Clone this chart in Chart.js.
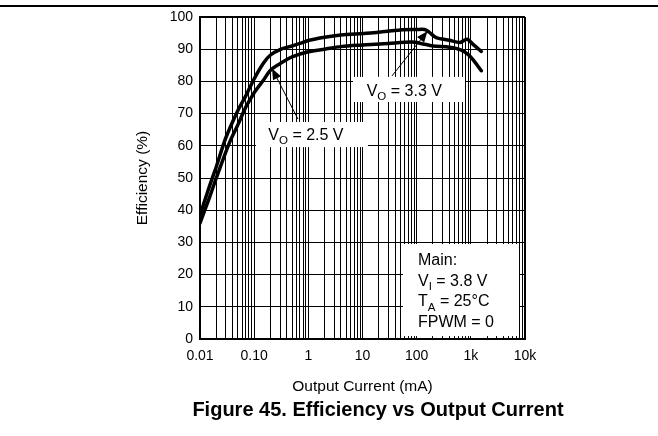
<!DOCTYPE html>
<html>
<head>
<meta charset="utf-8">
<script src="https://cdn.jsdelivr.net/npm/chart.js@4/dist/chart.umd.min.js"></script>
<style>
  html, body { margin: 0; padding: 0; background: #fff; }
  #wrap { position: relative; width: 658px; height: 436px; overflow: hidden; background: #fff; }
  #rule { position: absolute; left: 0; top: 5px; width: 658px; height: 0; border-top: 2px solid #000; }
  #cap { position: absolute; left: 0; width: 756px; top: 398px; text-align: center;
         font: bold 20px "Liberation Sans", Arial, sans-serif; line-height: 23px; color: #000; }
  canvas { position: absolute; left: 0; top: 0; }
</style>
</head>
<body>
<div id="wrap">
  <canvas id="c" width="658" height="436"></canvas>
  <div id="rule"></div>
  <div id="cap">Figure 45. Efficiency vs Output Current</div>
</div>
<script>
// ---- data ----
const current33 = [0.01, 0.015, 0.02, 0.03, 0.05, 0.07, 0.1, 0.15, 0.2, 0.3, 0.5, 0.7, 1, 2, 4, 10, 20, 50, 100, 140, 170, 230, 400, 630, 850, 1100, 1560];
const eff33     = [38.5, 47.5, 53.5, 62.5, 71, 75.5, 80.8, 85.8, 88.2, 89.9, 91, 91.8, 92.7, 93.7, 94.4, 94.9, 95.3, 96, 96.1, 96.1, 95.3, 93.6, 92.8, 92.1, 93.1, 91.5, 89.3];
const current25 = [0.01, 0.015, 0.02, 0.035, 0.05, 0.07, 0.1, 0.15, 0.2, 0.3, 0.5, 1, 2, 4, 10, 30, 80, 120, 200, 400, 650, 900, 1150, 1560];
const eff25     = [36, 44, 50, 61, 66.5, 72, 76.5, 80.5, 83.5, 85.5, 87.6, 89.2, 90, 90.8, 91.3, 91.8, 92.2, 91.8, 91.0, 90.6, 89.8, 88.3, 86.3, 83.3];

const xTickValues = [0.01, 0.1, 1, 10, 100, 1000, 10000];
const xTickLabels = ['0.01', '0.10', '1', '10', '100', '1k', '10k'];
const yMin = 0, yMax = 100, yStep = 10;

const xTitle = 'Output Current (mA)';
const yTitle = 'Efficiency (%)';
const label33 = [['V', 0], ['O', 1], [' = 3.3 V', 0]];
const label25 = [['V', 0], ['O', 1], [' = 2.5 V', 0]];
const conditions = [
  [['Main:', 0]],
  [['V', 0], ['I', 1], [' = 3.8 V', 0]],
  [['T', 0], ['A', 1], [' = 25°C', 0]],
  [['FPWM = 0', 0]]
];

const FONT = '"Liberation Sans", Arial, sans-serif';

// ---- annotation plugin (positions given in data coordinates) ----
function drawParts(ctx, parts, x, y, size) {
  let cx = x;
  ctx.textBaseline = 'alphabetic';
  ctx.textAlign = 'left';
  for (const [t, sub] of parts) {
    const fs = sub ? size * 0.72 : size;
    ctx.font = fs + 'px ' + FONT;
    ctx.fillText(t, cx, y + (sub ? size * 0.28 : 0));
    cx += ctx.measureText(t).width;
  }
}
function arrow(ctx, x0, y0, x1, y1) {
  ctx.strokeStyle = '#000';
  ctx.lineWidth = 1;
  ctx.beginPath(); ctx.moveTo(x0, y0); ctx.lineTo(x1, y1); ctx.stroke();
  const a = Math.atan2(y1 - y0, x1 - x0);
  const L = 11, W = 4.5;
  const bx = x1 - L * Math.cos(a), by = y1 - L * Math.sin(a);
  ctx.fillStyle = '#000';
  ctx.beginPath();
  ctx.moveTo(x1, y1);
  ctx.lineTo(bx + W * Math.sin(a), by - W * Math.cos(a));
  ctx.lineTo(bx - W * Math.sin(a), by + W * Math.cos(a));
  ctx.closePath(); ctx.fill();
}
const annots = {
  boxes: [
    { x0: 6.67, x1: 780, y0: 73.6, y1: 81.4 },
    { x0: 0.108, x1: 12.6, y0: 59.6, y1: 67.4 },
    { x0: 55.9, x1: 7750, y0: 0.9, y1: 29.5 }
  ],
  texts: [
    { parts: label33, x: 11.95, y: 75.5 },
    { parts: label25, x: 0.1824, y: 61.8 }
  ],
  condX: 105.8, condY: [22.98, 16.55, 10.12, 3.70],
  arrows: [
    { x0: 35, y0: 81.7, x1: 158, y1: 95.6 },
    { x0: 0.644, y0: 68.3, x1: 0.2134, y1: 84.0 }
  ]
};
const annotPlugin = {
  id: 'annots',
  beforeDatasetsDraw(chart) {
    const { ctx, scales: { x, y } } = chart;
    ctx.save();
    ctx.fillStyle = '#fff';
    for (const b of annots.boxes) {
      const px0 = x.getPixelForValue(b.x0), px1 = x.getPixelForValue(b.x1);
      const py0 = y.getPixelForValue(b.y1), py1 = y.getPixelForValue(b.y0);
      ctx.fillRect(px0, py0, px1 - px0, py1 - py0);
    }
    ctx.restore();
  },
  afterDatasetsDraw(chart) {
    const { ctx, scales: { x, y } } = chart;
    ctx.save();
    ctx.fillStyle = '#000';
    for (const t of annots.texts) {
      drawParts(ctx, t.parts, x.getPixelForValue(t.x), y.getPixelForValue(t.y), 16);
    }
    conditions.forEach((parts, i) => {
      ctx.fillStyle = '#000';
      drawParts(ctx, parts, x.getPixelForValue(annots.condX), y.getPixelForValue(annots.condY[i]), 16);
    });
    for (const a of annots.arrows) {
      arrow(ctx, x.getPixelForValue(a.x0), y.getPixelForValue(a.y0),
                 x.getPixelForValue(a.x1), y.getPixelForValue(a.y1));
    }
    ctx.restore();
  }
};

function toPoints(xs, ys) { return xs.map((v, i) => ({ x: v, y: ys[i] })); }

new Chart(document.getElementById('c'), {
  type: 'line',
  data: {
    datasets: [
      { label: 'VO = 3.3 V', data: toPoints(current33, eff33), borderColor: '#000', borderWidth: 3.5,
        pointRadius: 0, tension: 0.3, fill: false, borderJoinStyle: 'round', borderCapStyle: 'round' },
      { label: 'VO = 2.5 V', data: toPoints(current25, eff25), borderColor: '#000', borderWidth: 3.5,
        pointRadius: 0, tension: 0.3, fill: false, borderJoinStyle: 'round', borderCapStyle: 'round' }
    ]
  },
  options: {
    responsive: false,
    animation: false,
    events: [],
    layout: { padding: { left: 0, right: 133, top: 17, bottom: 0 } },
    plugins: { legend: { display: false }, tooltip: { enabled: false }, title: { display: false } },
    scales: {
      x: {
        type: 'logarithmic',
        min: xTickValues[0],
        max: xTickValues[xTickValues.length - 1],
        afterBuildTicks(scale) {
          const t = [];
          for (let d = 0; d < xTickValues.length - 1; d++) {
            for (let k = 1; k < 10; k++) t.push({ value: k * xTickValues[d], major: k === 1 });
          }
          t.push({ value: xTickValues[xTickValues.length - 1], major: true });
          scale.ticks = t;
        },
        afterFit(scale) { scale.height = 97; },
        ticks: {
          autoSkip: false, maxRotation: 0, minRotation: 0, padding: 9,
          color: '#000', font: { family: FONT, size: 14 },
          callback(value) {
            const i = xTickValues.findIndex(v => Math.abs(Math.log10(v) - Math.log10(value)) < 1e-6);
            return i >= 0 ? xTickLabels[i] : '';
          }
        },
        grid: { color: '#000', lineWidth: (c) => (c.tick && Math.abs(c.tick.value - 10000) < 1e-6 ? 2 : 1), drawTicks: false },
        border: { display: true, color: '#000', width: 2 },
        title: { display: true, text: xTitle, color: '#000', font: { family: FONT, size: 15.5 }, padding: { top: 0, bottom: 40 } }
      },
      y: {
        min: yMin, max: yMax,
        afterFit(scale) { scale.width = 200; },
        ticks: { stepSize: yStep, padding: 7, color: '#000', font: { family: FONT, size: 14 } },
        grid: { color: '#000', lineWidth: (c) => (c.tick && c.tick.value === yMax ? 2 : 1), drawTicks: false },
        border: { display: true, color: '#000', width: 2 },
        title: { display: true, text: yTitle, color: '#000', font: { family: FONT, size: 15.5 }, padding: { top: 133, bottom: 0 } }
      }
    }
  },
  plugins: [annotPlugin]
});
</script>
</body>
</html>
